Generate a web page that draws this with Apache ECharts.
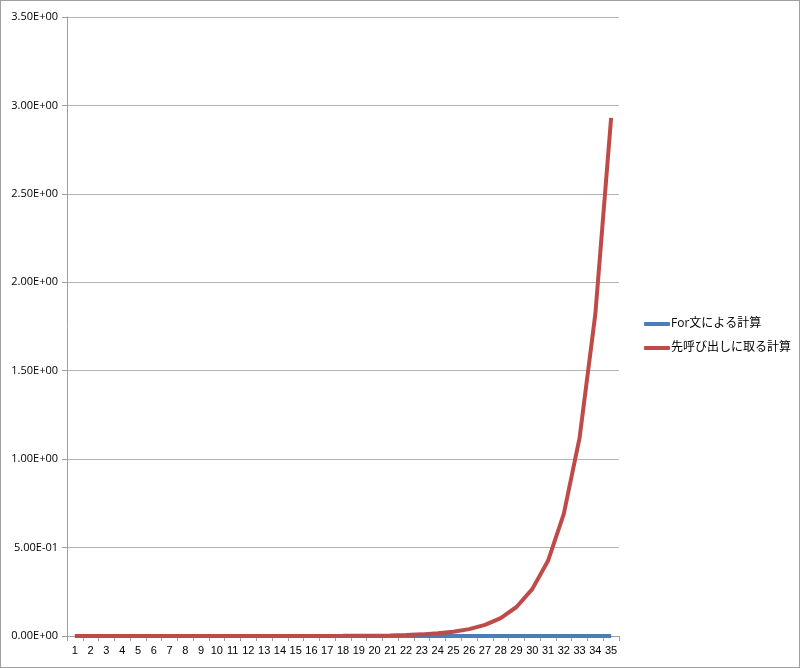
<!DOCTYPE html>
<html><head><meta charset="utf-8">
<script src="https://cdn.jsdelivr.net/npm/echarts@6/dist/echarts.min.js"></script>
<style>html,body{margin:0;padding:0;background:#fff}#c{width:800px;height:668px;box-sizing:border-box;border:1px solid #a0a0a0}</style>
</head><body><div id="c"></div>
<script>
const categories = ['1','2','3','4','5','6','7','8','9','10','11','12','13','14','15','16','17','18','19','20','21','22','23','24','25','26','27','28','29','30','31','32','33','34','35'];
const seriesNames = ['For文による計算', '先呼び出しに取る計算'];
const forLoop = [0.000001,0.000001,0.000001,0.000001,0.000001,0.000001,0.000001,0.000001,0.000001,0.000001,0.000001,0.000001,0.000001,0.000001,0.000001,0.000001,0.000001,0.000001,0.000001,0.000001,0.000001,0.000001,0.000001,0.000001,0.000001,0.000001,0.000001,0.000001,0.000001,0.000001,0.000001,0.000001,0.000001,0.000001,0.000001];
const recursive = [0.000001,0.000001,0.000001,0.000002,0.000003,0.000004,0.000006,0.000009,0.000014,0.000022,0.000035,0.000056,0.00009,0.00014,0.00022,0.00035,0.0005,0.0008,0.0013,0.0021,0.0035,0.0057,0.0092,0.015,0.024,0.039,0.063,0.101,0.164,0.265,0.425,0.69,1.12,1.82,2.93];
const yTicks = [0, 0.5, 1, 1.5, 2, 2.5, 3, 3.5];

const chart = echarts.init(document.getElementById('c'));
const font = '"Open Sans", Arial, "Liberation Sans", "Noto Sans CJK JP", sans-serif';
chart.setOption({
  animation: false,
  textStyle: {fontFamily: font},
  grid: {left: 66, right: 180, top: 16, bottom: 31, containLabel: false},
  legend: {
    orient: 'vertical', left: 638, top: 312, itemWidth: 26, itemHeight: 4, itemGap: 12,
    icon: 'roundRect',
    textStyle: {fontSize: 12, color: '#000', fontFamily: font, padding: [0,0,0,-4]},
    data: seriesNames
  },
  xAxis: {
    type: 'category', data: categories, boundaryGap: true,
    axisLine: {lineStyle: {color: '#a0a0a0'}},
    axisTick: {show: true, interval: 0, length: 5, lineStyle: {color: '#a0a0a0'}},
    axisLabel: {interval: 0, color: '#000', fontSize: 11, margin: 9, fontFamily: 'Arial, "Liberation Sans", sans-serif'}
  },
  yAxis: {
    type: 'value', min: 0, max: 3.5, interval: 0.5,
    axisLine: {show: true, lineStyle: {color: '#a0a0a0'}},
    axisTick: {show: true, inside: false, length: 5, lineStyle: {color: '#a0a0a0'}},
    splitLine: {lineStyle: {color: '#b4b4b4', width: 1}},
    axisLabel: {color: '#000', fontSize: 11, margin: 9, fontFamily: font,
      formatter: v => {
        const t = yTicks.find(x => Math.abs(x - v) < 1e-9);
        if (t === undefined) return '';
        if (t === 0) return '0.00E+00';
        let e = Math.floor(Math.log10(t));
        let m = t / Math.pow(10, e);
        const s = e < 0 ? '-' : '+';
        return m.toFixed(2) + 'E' + s + String(Math.abs(e)).padStart(2, '0');
      }}
  },
  series: [
    {name: seriesNames[0], type: 'line', data: forLoop, showSymbol: false, symbol: 'none',
     lineStyle: {width: 4, color: '#4a7ebb'}, itemStyle: {color: '#4a7ebb'}},
    {name: seriesNames[1], type: 'line', data: recursive, showSymbol: false, symbol: 'none',
     lineStyle: {width: 4, color: '#be4b48'}, itemStyle: {color: '#be4b48'}}
  ]
});
</script></body></html>
